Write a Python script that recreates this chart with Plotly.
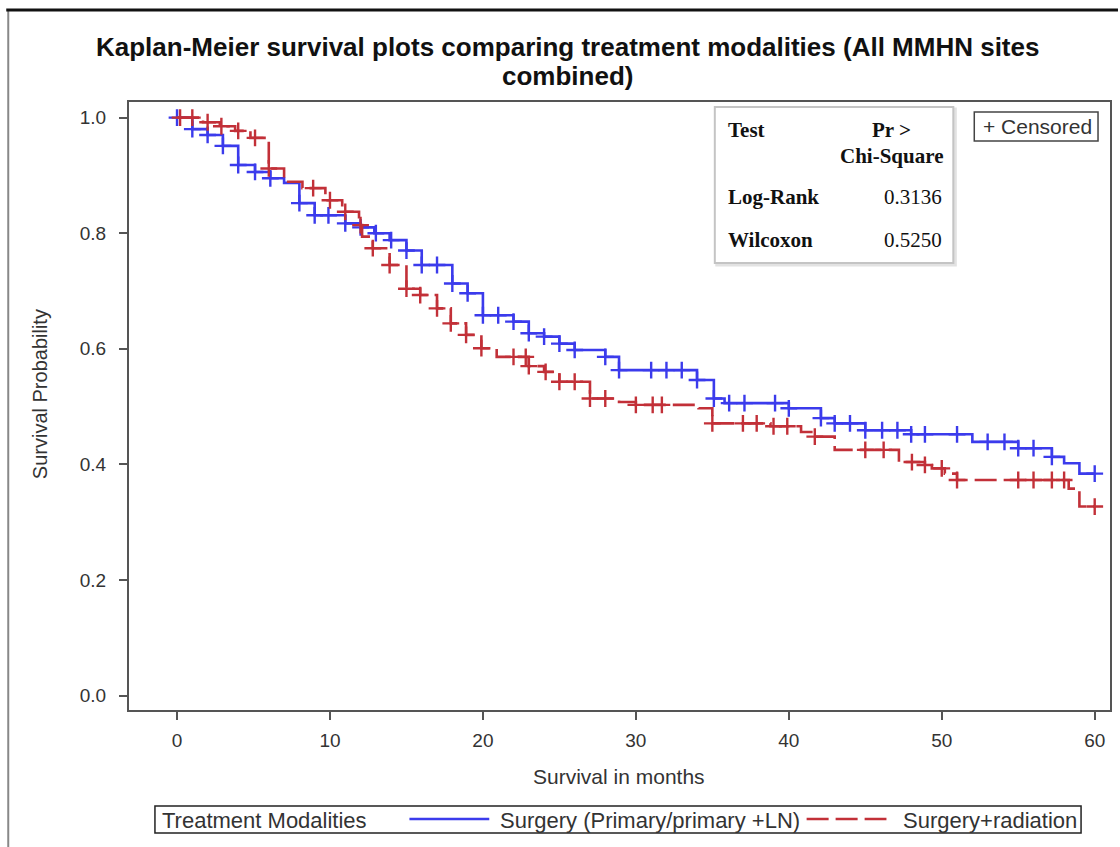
import numpy as np
import plotly.graph_objects as go

# Kaplan-Meier step estimates: event times (months) and survival after each event
surg_event_t = [0, 1.0, 2.0, 3.0, 4.0, 5.1, 6.1, 7.0, 8.0, 9.0, 11.0, 12.0, 12.9, 13.9,
                15.0, 16.0, 18.0, 19.0, 20.0, 22.0, 23.0, 24.0, 25.0, 26.0, 28.0, 28.9,
                34.0, 35.1, 35.8, 40.0, 42.1, 43.0, 45.0, 48.0, 52.0, 55.0, 57.2, 58.0, 59.0]
surg_surv = [1.0, 0.980, 0.970, 0.951, 0.918, 0.906, 0.895, 0.887, 0.852, 0.831, 0.817,
             0.810, 0.800, 0.788, 0.770, 0.745, 0.713, 0.696, 0.658, 0.647, 0.627, 0.621,
             0.609, 0.598, 0.586, 0.563, 0.546, 0.514, 0.506, 0.497, 0.480, 0.471, 0.459,
             0.452, 0.439, 0.428, 0.413, 0.402, 0.384]
surg_censor_t = [0, 1.0, 2.0, 3.0, 4.0, 5.1, 6.1, 8.0, 9.0, 9.9, 11.0, 12.0, 13.0, 14.0,
                 15.0, 16.0, 17.0, 18.0, 19.0, 20.0, 21.0, 22.0, 23.0, 24.0, 25.0, 26.0,
                 28.0, 28.9, 31.0, 32.0, 33.0, 34.0, 35.1, 36.1, 37.1, 39.1, 40.0, 42.1,
                 43.0, 44.0, 45.0, 46.1, 47.1, 48.0, 48.9, 51.0, 53.0, 54.1, 55.0, 56.0,
                 57.2, 60.0]

rad_event_t = [0, 1.7, 2.8, 3.8, 4.8, 6.0, 7.0, 8.2, 9.7, 10.8, 11.9, 12.1, 12.8, 13.9,
               15.0, 15.9, 17.0, 17.9, 18.9, 19.9, 20.9, 23.0, 24.0, 25.0, 27.0, 28.9,
               30.0, 34.1, 35.0, 38.8, 40.8, 41.7, 43.0, 47.2, 48.9, 49.35, 50.2, 51.0,
               58.3, 59.0]
rad_surv = [1.0, 0.992, 0.985, 0.977, 0.965, 0.912, 0.889, 0.878, 0.857, 0.837, 0.814,
            0.794, 0.774, 0.745, 0.704, 0.693, 0.670, 0.644, 0.624, 0.601, 0.586, 0.570,
            0.560, 0.543, 0.514, 0.508, 0.503, 0.497, 0.471, 0.466, 0.456, 0.448, 0.425,
            0.404, 0.399, 0.393, 0.384, 0.373, 0.358, 0.327]
rad_censor_t = [0.2, 1.0, 2.0, 2.9, 4.0, 5.1, 6.0, 8.9, 10.0, 11.0, 12.0, 12.8, 13.9,
                15.0, 15.9, 17.0, 17.9, 18.9, 19.9, 22.0, 22.8, 23.0, 24.1, 25.0, 26.0,
                27.0, 28.0, 30.0, 31.1, 31.7, 35.0, 37.0, 37.9, 39.0, 39.9, 41.7, 45.0,
                46.2, 48.05, 48.9, 50.0, 51.0, 55.0, 56.0, 57.2, 58.0, 60.0]

follow_up_end = 60

group_names = ["Surgery (Primary/primary +LN)", "Surgery+radiation"]
x_ticks = [0, 10, 20, 30, 40, 50, 60]
y_ticks = [0.0, 0.2, 0.4, 0.6, 0.8, 1.0]

test_names = ["Log-Rank", "Wilcoxon"]
test_pvalues = ["0.3136", "0.5250"]

BLUE = "#3b3bec"
RED = "#c23038"
FONT = "Liberation Sans, Arial, sans-serif"
SERIF = "Liberation Serif, Times New Roman, serif"
TXT = "#333333"


def km_value(times, surv, t):
    idx = np.searchsorted(np.asarray(times), t, side="right") - 1
    return np.asarray(surv)[idx]


fig = go.Figure()

series = [
    (surg_event_t, surg_surv, surg_censor_t, BLUE, "solid", group_names[0]),
    (rad_event_t, rad_surv, rad_censor_t, RED, "22px,7px", group_names[1]),
]
for times, surv, cens, color, dash, name in series:
    fig.add_trace(go.Scatter(
        x=list(times) + [follow_up_end],
        y=list(surv) + [surv[-1]],
        mode="lines", line=dict(color=color, width=2.6, dash=dash, shape="hv"),
        name=name, showlegend=False, hoverinfo="skip",
    ))
    fig.add_trace(go.Scatter(
        x=cens, y=[km_value(times, surv, t) for t in cens],
        mode="markers",
        marker=dict(symbol="cross-thin-open", size=12, color=color,
                    line=dict(color=color, width=2.4)),
        name=name + " censored", showlegend=False,
    ))

axis_common = dict(
    showgrid=False, zeroline=False, showline=True, mirror=True,
    linecolor="#555555", linewidth=2, ticks="outside", ticklen=8, tickwidth=2,
    tickcolor="#555555", tickfont=dict(family=FONT, size=19, color=TXT),
)
fig.update_xaxes(range=[-3.14, 61.0], tickvals=x_ticks, ticktext=[str(v) for v in x_ticks],
                 ticklabelstandoff=4, **axis_common)
fig.update_yaxes(range=[-0.025, 1.027], tickvals=y_ticks,
                 ticktext=[f"{v:.1f}" for v in y_ticks], ticklabelstandoff=9, **axis_common)

W, H = 1120, 847
L, R, T, B = 129, 8, 102, 137
pw, ph = W - L - R, H - T - B


def px(x):
    return (x - L) / pw


def py(y):
    return (H - B - y) / ph


anns = [
    dict(text="<b>Kaplan-Meier survival plots comparing treatment modalities (All MMHN sites</b>",
         x=px(568), y=py(47), xanchor="center", yanchor="middle",
         font=dict(family=FONT, size=26, color="#111111")),
    dict(text="<b>combined)</b>", x=px(568), y=py(76), xanchor="center", yanchor="middle",
         font=dict(family=FONT, size=26, color="#111111")),
    dict(text="Survival Probability", textangle=-90, x=px(40), y=py(394),
         xanchor="center", yanchor="middle", font=dict(family=FONT, size=20, color=TXT)),
    dict(text="Survival in months", x=px(620), y=py(776),
         xanchor="center", yanchor="middle", font=dict(family=FONT, size=21, color=TXT)),
    # statistics inset
    dict(text="<b>Test</b>", x=px(727), y=py(130), xanchor="left", yanchor="middle",
         font=dict(family=SERIF, size=21, color="#111111")),
    dict(text="<b>Pr &gt;</b>", x=px(893), y=py(130), xanchor="center", yanchor="middle",
         font=dict(family=SERIF, size=21, color="#111111")),
    dict(text="<b>Chi-Square</b>", x=px(893), y=py(156), xanchor="center", yanchor="middle",
         font=dict(family=SERIF, size=21, color="#111111")),
]
for i, (name, pv) in enumerate(zip(test_names, test_pvalues)):
    yy = 197 + i * 43
    anns.append(dict(text=f"<b>{name}</b>", x=px(727), y=py(yy), xanchor="left",
                     yanchor="middle", font=dict(family=SERIF, size=21, color="#111111")))
    anns.append(dict(text=pv, x=px(946), y=py(yy), xanchor="right", yanchor="middle",
                     font=dict(family=SERIF, size=21, color="#111111")))

anns.append(dict(text="+ Censored", x=px(1039), y=py(127), xanchor="center", yanchor="middle",
                 font=dict(family=FONT, size=21, color=TXT)))

# legend row
anns += [
    dict(text="Treatment Modalities", x=px(160), y=py(820), xanchor="left", yanchor="middle",
         font=dict(family=FONT, size=22, color=TXT)),
    dict(text=group_names[0], x=px(499), y=py(820), xanchor="left", yanchor="middle",
         font=dict(family=FONT, size=22, color=TXT)),
    dict(text=group_names[1], x=px(903), y=py(820), xanchor="left", yanchor="middle",
         font=dict(family=FONT, size=22, color=TXT)),
]
for a in anns:
    a.update(xref="paper", yref="paper", showarrow=False)

shapes = [
    # stats box with faint shadow
    dict(type="rect", x0=px(718), x1=px(957), y0=py(265), y1=py(109),
         line=dict(color="#e2e2e2", width=3), layer="below"),
    dict(type="rect", x0=px(716), x1=px(955), y0=py(263), y1=py(107),
         line=dict(color="#c4c4c4", width=2), fillcolor="white", layer="below"),
    # censored key box
    dict(type="rect", x0=px(976), x1=px(1100), y0=py(141), y1=py(112),
         line=dict(color="#444444", width=1.5)),
    # legend frame and samples
    dict(type="rect", x0=px(155), x1=px(1083), y0=py(833), y1=py(806),
         line=dict(color="#222222", width=1.5)),
    dict(type="line", x0=px(410), x1=px(490), y0=py(819), y1=py(819),
         line=dict(color=BLUE, width=2.6)),
    dict(type="line", x0=px(808), x1=px(888), y0=py(819), y1=py(819),
         line=dict(color=RED, width=2.6, dash="22px,7px")),
    # page border
    dict(type="line", x0=px(8), x1=px(8), y0=py(10), y1=py(847),
         line=dict(color="#888888", width=2)),
    dict(type="line", x0=px(6), x1=px(1120), y0=py(10), y1=py(10),
         line=dict(color="#111111", width=3)),
]
for s in shapes:
    s.update(xref="paper", yref="paper")

fig.update_layout(
    width=W, height=H, margin=dict(l=L, r=R, t=T, b=B),
    paper_bgcolor="white", plot_bgcolor="white",
    annotations=anns, shapes=shapes, showlegend=False,
)

fig.write_html("out.html")
